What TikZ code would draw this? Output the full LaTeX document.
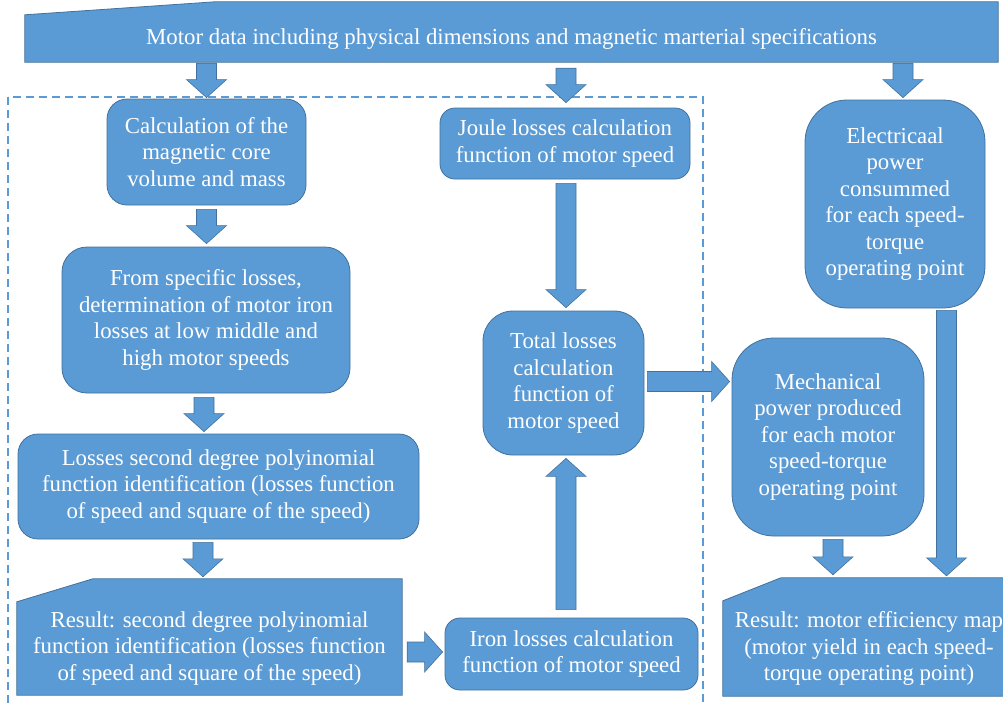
\documentclass[tikz,border=0pt]{standalone}
\usepackage{fontspec}
\setmainfont{Liberation Serif}
\usetikzlibrary{calc,backgrounds}

\definecolor{boxfill}{rgb}{0.357, 0.608, 0.835}
\definecolor{boxline}{rgb}{0.255, 0.443, 0.612}

% block arrow from #1 to #2 (shaft 20, head 40 x 18)
\newcommand{\fatarrow}[2]{%
  \coordinate (fa-s) at #1;
  \coordinate (fa-t) at #2;
  \coordinate (fa-h) at ($(fa-t)!18pt!(fa-s)$);
  \filldraw[fatline] ($(fa-s)!10pt!90:(fa-t)$) -- ($(fa-h)!10pt!90:(fa-t)$)
    -- ($(fa-h)!20pt!90:(fa-t)$) -- (fa-t) -- ($(fa-h)!20pt!-90:(fa-t)$)
    -- ($(fa-h)!10pt!-90:(fa-t)$) -- ($(fa-s)!10pt!-90:(fa-t)$) -- cycle;}

\begin{document}
\begin{tikzpicture}[x=1pt,y=-1pt,
  font=\fontsize{22.8}{26.5}\selectfont,
  box/.style={draw=boxline, fill=boxfill, text=white, line width=0.8pt,
    align=center, inner sep=0pt, rounded corners=#1},
  inputbox/.style={text=white, align=center, inner sep=0pt},
  inputline/.style={draw=boxline, fill=boxfill, line width=0.8pt},
  fatline/.style={draw=boxline, fill=boxfill, line width=0.6pt, line join=miter},
  groupline/.style={draw=boxfill, line width=1.4pt, dash pattern=on 8pt off 5pt}]
\clip (0,0) rectangle (1003,702);

% motor data
\node[inputbox, minimum width=973pt, minimum height=47pt] (data) at (511.5,38.5)
  {Motor data including physical dimensions and magnetic marterial specifications};

% iron losses branch
\node[box=20pt, minimum width=199pt, minimum height=106pt] (calc) at (206.5,152)
  {Calculation of the\\magnetic core\\volume and mass};
\node[box=25pt, minimum width=288pt, minimum height=146pt] (spec) at (206,320)
  {From specific losses,\\determination of motor iron\\losses at low middle and\\high motor speeds};
\node[box=20pt, minimum width=401pt, minimum height=105pt] (poly) at (218.5,486.5)
  {Losses second degree polyinomial\\function identification (losses function\\of speed and square of the speed)};
\node[inputbox, minimum width=385pt, minimum height=93pt] (res1) at (209.5,648.5)
  {Result: second degree polyinomial\\function identification (losses function\\of speed and square of the speed)};

% losses column
\node[box=15pt, minimum width=250pt, minimum height=71pt] (joule) at (565,143.5)
  {Joule losses calculation\\function of motor speed};
\node[box=30pt, minimum width=161pt, minimum height=144pt] (total) at (563.5,383)
  {Total losses\\calculation\\function of\\motor speed};
\node[box=15pt, minimum width=253pt, minimum height=72pt] (iron) at (571.5,654)
  {Iron losses calculation\\function of motor speed};

% power and efficiency
\node[box=42pt, minimum width=180pt, minimum height=208pt] (elec) at (895,204)
  {Electricaal\\power\\consummed\\for each speed-\\torque\\operating point};
\node[box=42pt, minimum width=192pt, minimum height=198pt] (mech) at (828,437)
  {Mechanical\\power produced\\for each motor\\speed-torque\\operating point};
\node[inputbox, minimum width=292pt, minimum height=95pt] (res2) at (869,648.5)
  {Result: motor efficiency map\\(motor yield in each speed-\\torque operating point)};

\begin{scope}[on background layer]
  \fill[white] (0,0) rectangle (1003,702);
  \draw[groupline] (8,97) rectangle (703,715);
  \filldraw[inputline] (data.north west) -- ($(data.north west)+(190,-13)$)
    -- ($(data.north east)+(0,-13)$) -- (data.south east) -- (data.south west) -- cycle;
  \filldraw[inputline] (res1.north west) -- ($(res1.north west)+(76,-23)$)
    -- ($(res1.north east)+(0,-23)$) -- (res1.south east) -- (res1.south west) -- cycle;
  \filldraw[inputline] (res2.north west) -- ($(res2.north west)+(58,-23)$)
    -- ($(res2.north east)+(0,-23)$) -- (res2.south east) -- (res2.south west) -- cycle;
\end{scope}

% arrows
\fatarrow{($(data.south -| calc.north)+(0,1)$)}{($(calc.north)+(0,-1)$)}
\fatarrow{($(data.south -| joule.north)+(1,6)$)}{($(joule.north)+(1,-5)$)}
\fatarrow{($(data.south -| elec.north)+(8,1)$)}{($(elec.north)+(8,-2)$)}
\fatarrow{($(calc.south)+(0,4)$)}{($(spec.north -| calc.south)+(0,-3)$)}
\fatarrow{($(spec.south)+(-2,4)$)}{($(poly.north -| spec.south)+(-2,-2)$)}
\fatarrow{($(spec.south |- poly.south)+(-3,3)$)}{($(spec.south |- res1.north)+(-3,-25)$)}
\fatarrow{($(joule.south)+(1,4)$)}{($(total.north -| joule.south)+(1,-3)$)}
\fatarrow{($(res1.east |- iron.west)+(5,-2)$)}{($(iron.west)+(-2,-2)$)}
\fatarrow{($(iron.north -| joule.south)+(1,-8)$)}{($(total.south -| joule.south)+(1,3)$)}
\fatarrow{($(total.east)+(3,-1.5)$)}{($(mech.west |- total.east)+(-2,-1.5)$)}
\fatarrow{($(mech.south)+(5,3)$)}{($(res2.north -| mech.south)+(5,-26)$)}
\fatarrow{($(elec.south)+(51.5,2)$)}{($(res2.north -| elec.south)+(51.5,-25)$)}
\end{tikzpicture}
\end{document}
